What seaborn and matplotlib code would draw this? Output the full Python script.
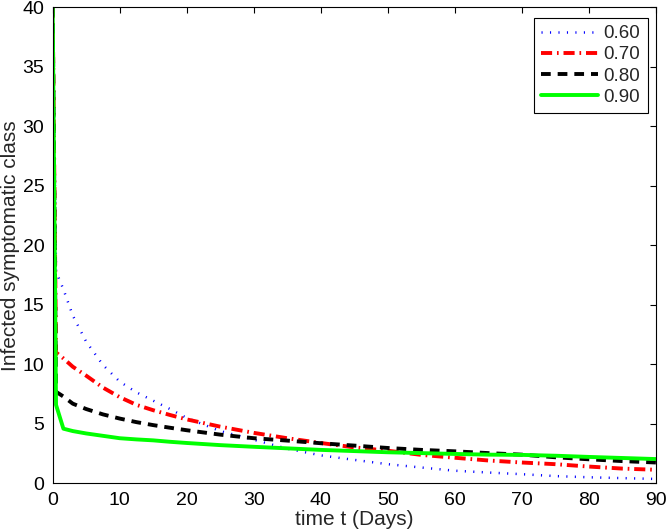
import numpy as np
import pandas as pd
import matplotlib
matplotlib.use("Agg")
import matplotlib.pyplot as plt
import seaborn as sns

# ---- data ----
t = [0, 0.5, 1.6, 3, 5, 7.5, 10, 12.5, 15, 17.5, 20, 25, 30, 35, 40, 45,
     50, 55, 60, 65, 70, 75, 80, 85, 90]
s060 = [40, 17.8, 16.3, 14.1, 11.9, 9.95, 8.55, 7.65, 6.95, 6.25, 5.5, 4.4,
        3.67, 2.92, 2.36, 1.98, 1.62, 1.34, 1.07, 0.92, 0.78, 0.62, 0.52,
        0.45, 0.38]
s070 = [40, 11.0, 10.5, 9.8, 9.05, 8.05, 7.25, 6.6, 6.15, 5.75, 5.38, 4.77,
        4.25, 3.8, 3.4, 3.03, 2.75, 2.4, 2.16, 1.93, 1.76, 1.62, 1.42, 1.25,
        1.15]
s080 = [40, 7.7, 7.3, 6.7, 6.25, 5.8, 5.45, 5.15, 4.9, 4.68, 4.47, 4.1, 3.8,
        3.6, 3.38, 3.18, 2.98, 2.82, 2.7, 2.55, 2.42, 2.2, 2.03, 1.88, 1.76]
s090 = [40, 6.6, 4.6, 4.4, 4.2, 4.0, 3.8, 3.7, 3.62, 3.5, 3.4, 3.22, 3.08,
        2.95, 2.82, 2.72, 2.62, 2.55, 2.48, 2.42, 2.4, 2.33, 2.23, 2.14, 2.05]
labels = ["0.60", "0.70", "0.80", "0.90"]
xticks = list(range(0, 91, 10))
yticks = list(range(0, 41, 5))

sns.set_style("white")
plt.rcParams["font.family"] = ["Liberation Sans", "DejaVu Sans"]
plt.rcParams["lines.scale_dashes"] = False

fig = plt.figure(figsize=(6.66, 5.32), dpi=100)
ax = fig.add_axes([0.0791, 0.0912, 0.9059, 0.8956])

styles = [
    dict(color=(0, 0, 1), lw=1.8, dashes=(0.8, 5.3)),
    dict(color=(1, 0, 0), lw=2.8, dashes=(8.0, 3.5, 1.2, 3.5)),
    dict(color="black", lw=2.8, dashes=(7.0, 5.0)),
    dict(color=(0, 1, 0), lw=2.8, dashes=None),
]
for ys, lab, st in zip([s060, s070, s080, s090], labels, styles):
    df = pd.DataFrame({"t": t, "y": ys})
    sns.lineplot(data=df, x="t", y="y", ax=ax, color=st["color"],
                 linewidth=st["lw"], label=lab, sort=False)
    line = ax.lines[-1]
    if st["dashes"] is not None:
        line.set_dashes(st["dashes"])
    else:
        line.set_linestyle("-")

ax.set_xlim(0, 90)
ax.set_ylim(0, 40)
ax.set_xticks(xticks)
ax.set_yticks(yticks)
ax.tick_params(direction="in", length=4, width=0.8, top=True, right=True,
               labelsize=14, pad=6, colors="black")
for sp in ax.spines.values():
    sp.set_color("black")
    sp.set_linewidth(0.8)
ax.set_xlabel("time t (Days)", fontsize=15, labelpad=1)
ax.set_ylabel("Infected symptomatic class", fontsize=15, labelpad=2)

leg = ax.legend(loc="upper right", bbox_to_anchor=(0.986, 0.978),
                borderaxespad=0, fontsize=13.5, handlelength=3.0,
                labelspacing=0.22, handletextpad=0.3, borderpad=0.4,
                fancybox=False, framealpha=1, edgecolor="black")
leg.get_frame().set_linewidth(0.8)

fig.savefig("out.png", dpi=100)
